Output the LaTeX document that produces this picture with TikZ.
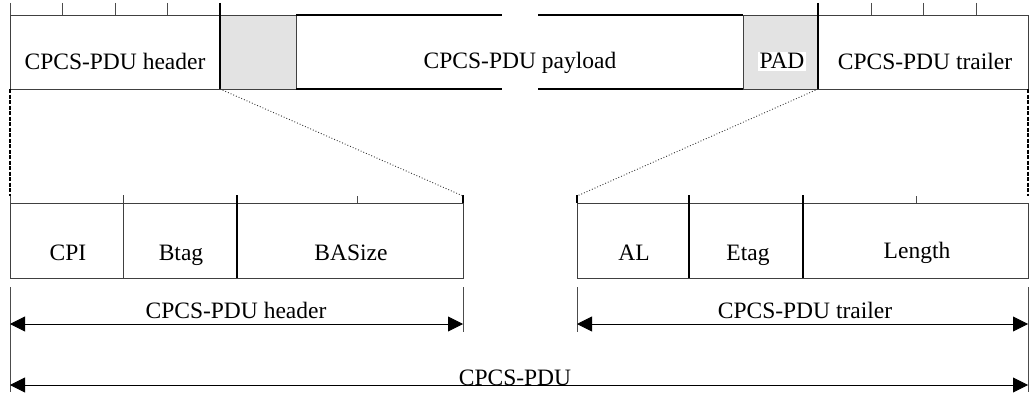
\documentclass[tikz,border=0pt]{standalone}
\usepackage{fontspec}
\setmainfont{Liberation Serif}
\usetikzlibrary{arrows.meta}
\definecolor{padgray}{HTML}{E3E3E3}
\begin{document}
\begin{tikzpicture}[x=1pt,y=-1pt,
  thinbox/.style={draw=black!75, line width=0.9pt},
  thick/.style={draw=black, line width=2pt},
  tick/.style={draw=black!70, line width=0.9pt},
  zoomline/.style={draw=black!80, line width=0.9pt, dotted},
  edgedash/.style={draw=black, line width=1.7pt, dash pattern=on 4pt off 1.5pt},
  dim/.style={draw=black, line width=0.9pt, {Triangle[length=15pt,width=15pt]}-{Triangle[length=15pt,width=15pt]}},
  ext/.style={draw=black!70, line width=0.9pt},
  lbl/.style={anchor=base, inner sep=0pt, font=\fontsize{23.5}{28}\selectfont}]
\useasboundingbox (0,0) rectangle (1030,396);

% ---------- top row ----------
\coordinate (hTL) at (10,15);  \coordinate (hBL) at (10,89);
\coordinate (hTR) at (220,15); \coordinate (hBR) at (220,89);
\coordinate (tTL) at (818,15); \coordinate (tBL) at (818,89);
\coordinate (tTR) at (1028,15); \coordinate (tBR) at (1028,89);

\path[thinbox] (hTL) rectangle (hBR);
\path[thinbox, fill=padgray] (220,15) rectangle (296,89);
\path[thinbox, fill=padgray] (743,15) rectangle (818,89);
\path[thinbox] (tTL) rectangle (tBR);
\draw[thick] (296,15) -- (502,15) (296,89) -- (502,89);
\draw[thick] (538,15) -- (743,15) (538,89) -- (743,89);
\draw[thick] (220,3) -- (hBR);
\draw[thick] (818,3) -- (tBL);
\foreach \x in {10,62,115,167} \draw[tick] (\x,3) -- (\x,15);
\foreach \x in {871,923,976} \draw[tick] (\x,3) -- (\x,15);

\node[lbl] (lh) at (115,70) {CPCS-PDU header};
\node[lbl] (lp) at (520,69) {CPCS-PDU payload};
\node[lbl, fill=white, inner sep=1.5pt] (lpad) at (782,69) {PAD};
\node[lbl] (lt) at (925,70) {CPCS-PDU trailer};

% ---------- lower boxes ----------
\coordinate (aTL) at (10,203); \coordinate (aBR) at (463,278);
\coordinate (aTR) at (463,203);
\coordinate (bTL) at (577,203); \coordinate (bBR) at (1028,278);
\path[thinbox] (aTL) rectangle (aBR);
\path[thinbox] (bTL) rectangle (bBR);
\draw[thinbox] (123,195) -- (123,278);
\draw[draw=black, line width=1.4pt] (237,195) -- (237,278);
\draw[tick] (10,196) -- (aTL);
\draw[tick] (357,196) -- (357,203);
\draw[draw=black, line width=1.4pt] (463,195) -- (aTR);
\draw[draw=black, line width=1.4pt] (577,195) -- (bTL);
\draw[draw=black, line width=1.4pt] (689,195) -- (689,278);
\draw[draw=black, line width=1.4pt] (803,195) -- (803,278);
\draw[tick] (916,196) -- (916,203);

\node[lbl] (cpi) at (68,260) {CPI};
\node[lbl] (btag) at (181,260) {Btag};
\node[lbl] (basize) at (351,260) {BASize};
\node[lbl] (al) at (634,260) {AL};
\node[lbl] (etag) at (748,260) {Etag};
\node[lbl] (len) at (917,258) {Length};

% ---------- zoom lines ----------
\draw[edgedash] (hBL) -- (10,196);
\draw[edgedash] (tBR) -- (1028,196);
\draw[zoomline] (hBR) -- (463,196);
\draw[zoomline] (tBL) -- (577,196);

% ---------- dimensions ----------
\draw[ext] (10,287) -- (10,392);
\draw[ext] (463,287) -- (463,332);
\draw[ext] (577,287) -- (577,332);
\draw[ext] (1028,287) -- (1028,392);
\coordinate (d1a) at (10,324);  \coordinate (d1b) at (463,324);
\coordinate (d2a) at (577,324); \coordinate (d2b) at (1028,324);
\coordinate (d3a) at (10,385);  \coordinate (d3b) at (1028,385);
\draw[dim] (d1a) -- (d1b);
\draw[dim] (d2a) -- (d2b);
\draw[dim] (d3a) -- (d3b);
\node[lbl] (dh) at (236,318) {CPCS-PDU header};
\node[lbl] (dt) at (805,318) {CPCS-PDU trailer};
\node[lbl] (dp) at (515,385) {CPCS-PDU};
\end{tikzpicture}
\end{document}
